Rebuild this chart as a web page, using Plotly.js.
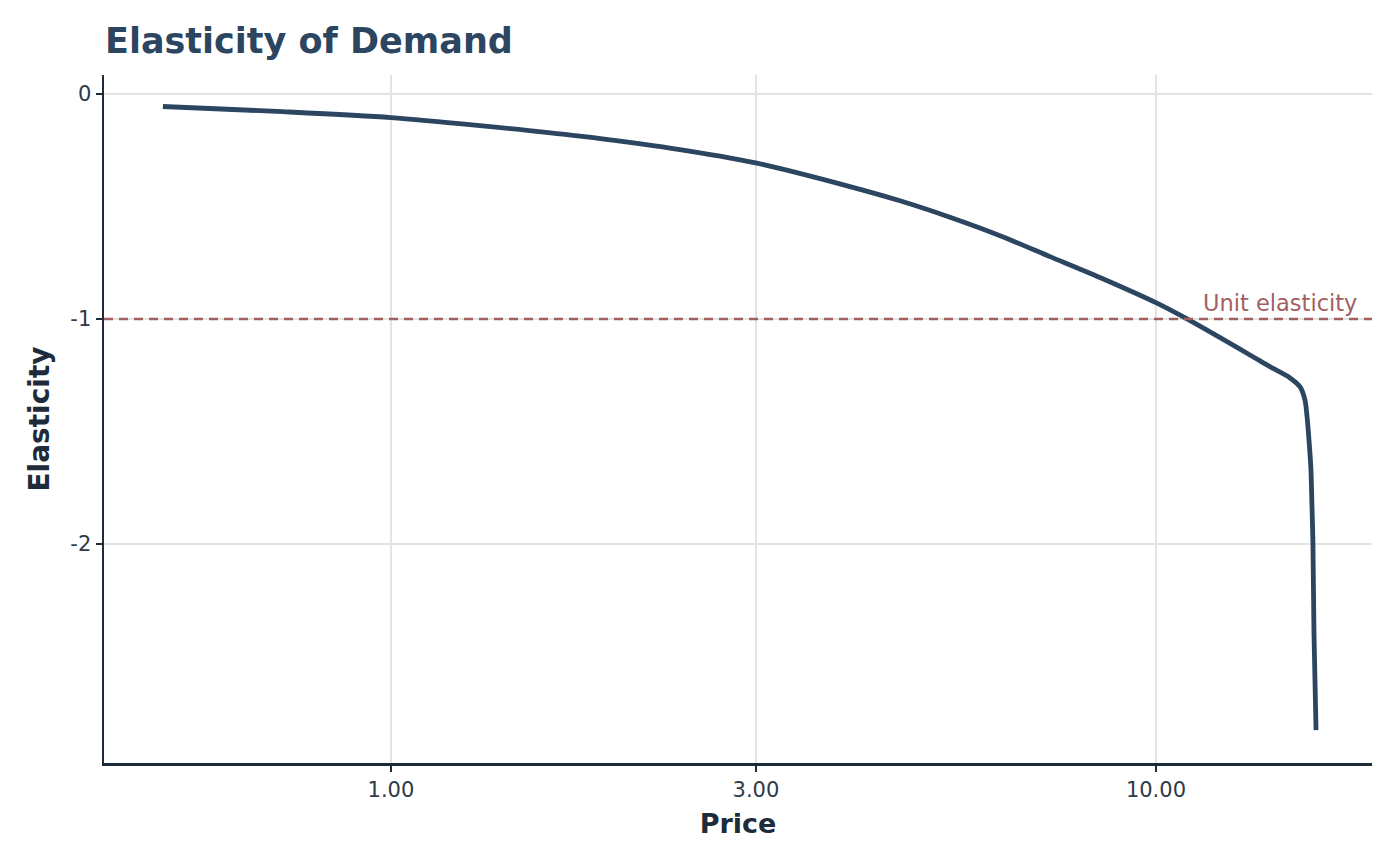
<!DOCTYPE html>
<html>
<head>
<meta charset="utf-8">
<script src="https://cdn.plot.ly/plotly-3.0.1.min.js"></script>
<style>
  html, body { margin: 0; padding: 0; background: #ffffff; }
  #plot { width: 1400px; height: 866px; }
</style>
</head>
<body>
<div id="plot"></div>
<script>
// Values
const price = [0.5035, 0.7228, 1.0, 1.307, 1.766, 2.316, 3.009, 3.981, 4.628, 5.379,
               6.254, 7.268, 8.448, 10.03, 10.98, 13.27, 14.09, 14.97, 15.43, 15.66,
               15.76, 15.85, 15.94, 15.99, 16.04, 16.09, 16.19]
const elasticity = [-0.056, -0.079, -0.105, -0.141, -0.188, -0.241, -0.308, -0.412, -0.475, -0.548,
                    -0.630, -0.723, -0.816, -0.930, -1.0, -1.16, -1.212, -1.262, -1.302, -1.36,
                    -1.436, -1.538, -1.662, -1.820, -1.996, -2.396, -2.827]

const x_tick_vals = [1, 3, 10]
const x_tick_text = ["1.00", "3.00", "10.00"]
const y_tick_vals = [0, -1, -2]
const y_tick_text = ["0", "-1", "-2"]

const unit_level = -1
const unit_label = "Unit elasticity"

const font_family = "DejaVu Sans"
const line_color = "#2c4560"
const axis_color = "#1e2b3a"
const ref_color = "#a35f5f"

let data = []
data.push({type: "scatter", mode: "lines", x: price, y: elasticity, showlegend: false, hoverinfo: "none",
           line: {color: line_color, width: 4.8, shape: "spline", smoothing: 0.8}})

const layout = {
    width: 1400, height: 866,
    paper_bgcolor: "#ffffff", plot_bgcolor: "#ffffff",
    margin: { l: 104, r: 28, t: 75, b: 103 },
    font: { family: font_family, color: "#2e3a48" },
    title: { text: "<b>Elasticity of Demand</b>", font: { family: font_family, size: 35, color: line_color },
             xref: "container", yref: "container", x: 0.075, xanchor: "left", y: 1 - 41/866, yanchor: "middle" },
    xaxis: { type: "log", range: [Math.log10(0.4217), Math.log10(19.16)],
             tickvals: x_tick_vals, ticktext: x_tick_text, tickfont: { size: 21, color: "#2e3a48" },
             ticks: "outside", ticklen: 6, tickwidth: 2, tickcolor: axis_color,
             showline: true, linecolor: axis_color, linewidth: 2.5,
             showgrid: true, gridcolor: "#e3e3e3", gridwidth: 1.5, zeroline: false,
             title: { text: "<b>Price</b>", font: { size: 27, color: axis_color }, standoff: 14 } },
    yaxis: { range: [-2.973, 0.084],
             tickvals: y_tick_vals, ticktext: y_tick_text, tickfont: { size: 21, color: "#2e3a48" },
             ticks: "outside", ticklen: 6, tickwidth: 2, tickcolor: axis_color,
             showline: true, linecolor: axis_color, linewidth: 2.5,
             showgrid: true, gridcolor: "#e3e3e3", gridwidth: 1.5, zeroline: false,
             title: { text: "<b>Elasticity</b>", font: { size: 28, color: axis_color }, standoff: 13 } },
    shapes: [{ type: "line", xref: "paper", x0: 0, x1: 1, yref: "y", y0: unit_level, y1: unit_level,
               line: { color: ref_color, width: 2.5, dash: "9px,6px" } }],
    annotations: [{ text: unit_label, xref: "paper", x: 0.99, xanchor: "right", yref: "y", y: unit_level,
                    yanchor: "bottom", yshift: 1, showarrow: false, font: { size: 22.5, color: ref_color } }]
}

Plotly.newPlot(document.getElementById("plot"), data, layout, { displaylogo: false, staticPlot: true })
</script>
</body>
</html>
